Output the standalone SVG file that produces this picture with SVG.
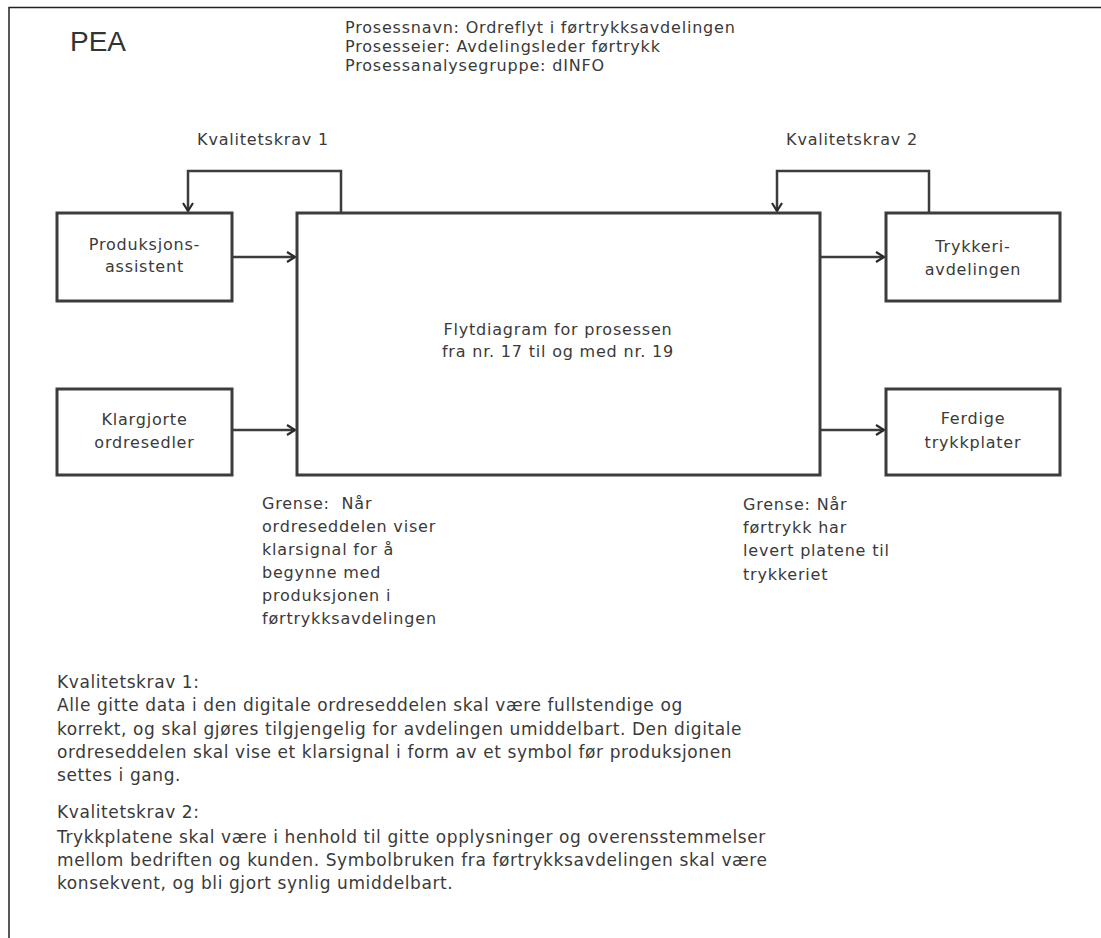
<svg xmlns="http://www.w3.org/2000/svg" width="1101" height="938" viewBox="0 0 1101 938">
  <style>
    .t { font-family: "DejaVu Sans", "Liberation Sans", sans-serif; font-size: 16px; letter-spacing: 0.8px; fill: #3a3a3a; white-space: pre; }
    .b { font-size: 17px; letter-spacing: 0.6px; }
    .c { text-anchor: middle; }
    .box { fill: #ffffff; stroke: #3c3c3c; stroke-width: 3; }
    .wire { fill: none; stroke: #3c3c3c; stroke-width: 2.5; }
    .frame { fill: none; stroke: #222222; stroke-width: 1.5; }
  </style>
  <defs>
    <marker id="arrow" markerUnits="userSpaceOnUse" markerWidth="14" markerHeight="14" refX="10" refY="6" orient="auto">
      <path d="M2,1 L10,6 L2,11" fill="none" stroke="#2a2a2a" stroke-width="2.2"/>
    </marker>
  </defs>

  <rect width="1101" height="938" fill="#ffffff"/>

  <!-- page frame: top and left edges -->
  <path class="frame" d="M9,938 V7.5 H1101"/>

  <!-- title and header -->
  <text x="70" y="51" style="font-family:'Liberation Sans',Arial,sans-serif;font-size:28px;fill:#333">PEA</text>
  <g id="header">
    <text class="t" x="345" y="33">Prosessnavn: Ordreflyt i førtrykksavdelingen</text>
    <text class="t" x="345" y="52">Prosesseier: Avdelingsleder førtrykk</text>
    <text class="t" x="345" y="71">Prosessanalysegruppe: dINFO</text>
  </g>

  <!-- connectors -->
  <g id="connectors">
    <path class="wire" d="M341,213 V171 H188 V211" marker-end="url(#arrow)"/>
    <path class="wire" d="M929,213 V171 H777 V211" marker-end="url(#arrow)"/>
    <path class="wire" d="M232,257 H295" marker-end="url(#arrow)"/>
    <path class="wire" d="M232,430 H295" marker-end="url(#arrow)"/>
    <path class="wire" d="M820,257 H884" marker-end="url(#arrow)"/>
    <path class="wire" d="M820,430 H884" marker-end="url(#arrow)"/>
  </g>

  <!-- connector labels -->
  <text class="t c" x="263" y="145">Kvalitetskrav 1</text>
  <text class="t c" x="852" y="145">Kvalitetskrav 2</text>

  <!-- nodes -->
  <g id="produksjonsassistent">
    <rect class="box" x="57" y="213" width="175" height="88"/>
    <text class="t c" x="144.5" y="250">Produksjons-</text>
    <text class="t c" x="144.5" y="272">assistent</text>
  </g>
  <g id="klargjorte">
    <rect class="box" x="57" y="389" width="175" height="86"/>
    <text class="t c" x="144.5" y="425">Klargjorte</text>
    <text class="t c" x="144.5" y="448">ordresedler</text>
  </g>
  <g id="flytdiagram">
    <rect class="box" x="297" y="213" width="523" height="262"/>
    <text class="t c" x="558" y="335">Flytdiagram for prosessen</text>
    <text class="t c" x="558" y="357">fra nr. 17 til og med nr. 19</text>
  </g>
  <g id="trykkeriavdelingen">
    <rect class="box" x="886" y="213" width="174" height="88"/>
    <text class="t c" x="973" y="252">Trykkeri-</text>
    <text class="t c" x="973" y="275">avdelingen</text>
  </g>
  <g id="ferdige">
    <rect class="box" x="886" y="389" width="174" height="86"/>
    <text class="t c" x="973" y="424">Ferdige</text>
    <text class="t c" x="973" y="448">trykkplater</text>
  </g>

  <!-- boundary notes -->
  <g id="grense-start">
    <text class="t" x="262" y="509">Grense:  Når</text>
    <text class="t" x="262" y="532">ordreseddelen viser</text>
    <text class="t" x="262" y="555">klarsignal for å</text>
    <text class="t" x="262" y="578">begynne med</text>
    <text class="t" x="262" y="601">produksjonen i</text>
    <text class="t" x="262" y="624">førtrykksavdelingen</text>
  </g>
  <g id="grense-slutt">
    <text class="t" x="743" y="510">Grense: Når</text>
    <text class="t" x="743" y="533">førtrykk har</text>
    <text class="t" x="743" y="556">levert platene til</text>
    <text class="t" x="743" y="580">trykkeriet</text>
  </g>

  <!-- quality requirements -->
  <g id="kvalitetskrav">
    <text class="t b" x="57" y="688">Kvalitetskrav 1:</text>
    <text class="t b" x="57" y="711">Alle gitte data i den digitale ordreseddelen skal være fullstendige og</text>
    <text class="t b" x="57" y="735">korrekt, og skal gjøres tilgjengelig for avdelingen umiddelbart. Den digitale</text>
    <text class="t b" x="57" y="758">ordreseddelen skal vise et klarsignal i form av et symbol før produksjonen</text>
    <text class="t b" x="57" y="781">settes i gang.</text>
    <text class="t b" x="57" y="818">Kvalitetskrav 2:</text>
    <text class="t b" x="57" y="843">Trykkplatene skal være i henhold til gitte opplysninger og overensstemmelser</text>
    <text class="t b" x="57" y="866">mellom bedriften og kunden. Symbolbruken fra førtrykksavdelingen skal være</text>
    <text class="t b" x="57" y="889">konsekvent, og bli gjort synlig umiddelbart.</text>
  </g>
</svg>
